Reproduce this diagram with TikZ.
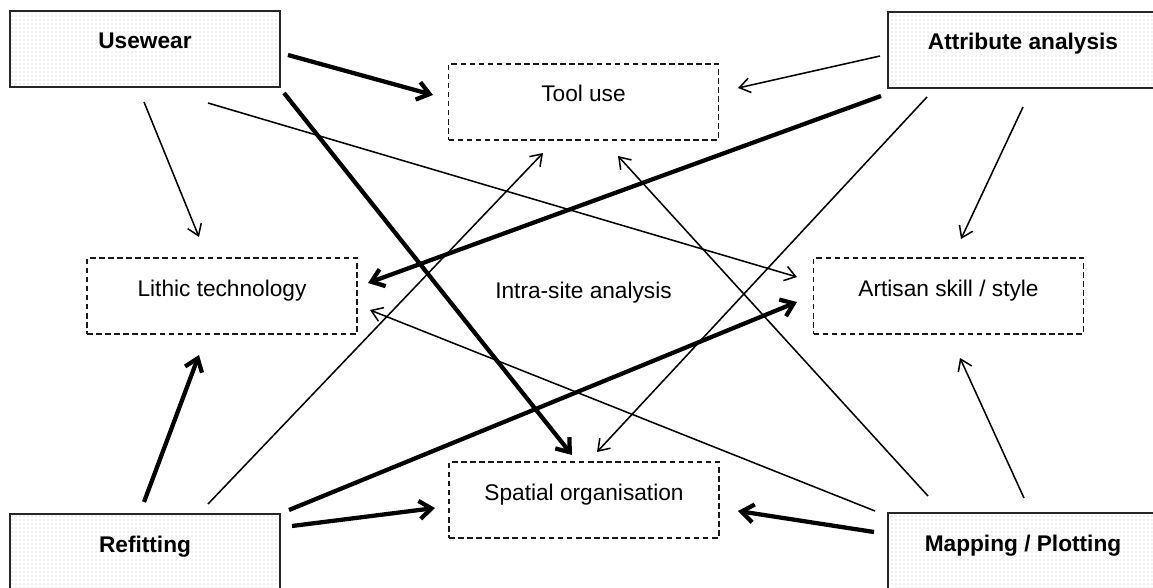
\documentclass[tikz,border=0pt]{standalone}
\usepackage{fontspec}
\setmainfont{Liberation Sans}
\usetikzlibrary{arrows.meta,calc,patterns}
\begin{document}
\begin{tikzpicture}[x=0.75pt,y=-0.75pt,
  every node/.style={font=\fontsize{17}{20}\selectfont},
  box/.style={rectangle, minimum width=202.5pt, text height=28.5pt, text depth=28.5pt, inner ysep=0pt, inner xsep=0pt},
  srcbox/.style={box, draw=black!85, line width=1.6pt, pattern=dots, pattern color=black!22, font=\bfseries\fontsize{17}{20}\selectfont},
  tgtbox/.style={box, draw=black!90, line width=1.3pt, dash pattern=on 4.2pt off 2.6pt},
  thinarr/.style={line width=1.15pt, -{Straight Barb[length=8pt,width=11pt]}},
  thickarr/.style={line width=3.2pt, -{Straight Barb[length=9pt,width=13.5pt]}},
]
\path[use as bounding box] (0,0) rectangle (1153,588);
\clip (0,0) rectangle (1153,588);

% source boxes
\node[srcbox] (U) at (145,49) {Usewear};
\node[srcbox] (A) at (1023,50) {Attribute analysis};
\node[srcbox] (R) at (145,552) {Refitting};
\node[srcbox] (M) at (1023,551) {Mapping / Plotting};

% target boxes
\node[tgtbox] (T) at (583.5,102) {Tool use};
\node[tgtbox] (L) at (222,296) {Lithic technology};
\node[tgtbox] (S) at (948.5,296) {Artisan skill / style};
\node[tgtbox] (P) at (584,500) {Spatial organisation};

\node[anchor=base] (I) at (583.5,298) {Intra-site analysis};

% Usewear
\draw[thickarr] ($(U)+(143,6)$) -- ($(T)+(-150.5,-7)$);
\draw[thickarr] ($(U)+(139,44)$) -- ($(P)+(-12,-45)$);
\draw[thinarr] ($(U)+(-1,53)$) -- ($(L)+(-23,-59)$);
\draw[thinarr] ($(U)+(63,54)$) -- ($(S)+(-151.5,-19)$);
% Attribute analysis
\draw[thinarr] ($(A)+(-143,6)$) -- ($(T)+(154.5,-14)$);
\draw[thickarr] ($(A)+(-142,46)$) -- ($(L)+(146,-13)$);
\draw[thinarr] ($(A)+(-96,47)$) -- ($(P)+(13,-48)$);
\draw[thinarr] ($(A)+(0,57)$) -- ($(S)+(12.5,-57)$);
% Refitting
\draw[thickarr] ($(R)+(-1,-50)$) -- ($(L)+(-23,59)$);
\draw[thinarr] ($(R)+(63,-48)$) -- ($(T)+(-40.5,51)$);
\draw[thickarr] ($(R)+(144,-42)$) -- ($(S)+(-151.5,6)$);
\draw[thickarr] ($(R)+(147,-26)$) -- ($(P)+(-149,8)$);
% Mapping / Plotting
\draw[thinarr] ($(M)+(-95,-55)$) -- ($(T)+(34.5,54)$);
\draw[thinarr] ($(M)+(-148,-40)$) -- ($(L)+(148,14)$);
\draw[thickarr] ($(M)+(-149,-19)$) -- ($(P)+(154,11)$);
\draw[thinarr] ($(M)+(1,-53)$) -- ($(S)+(11.5,62)$);
\end{tikzpicture}
\end{document}
